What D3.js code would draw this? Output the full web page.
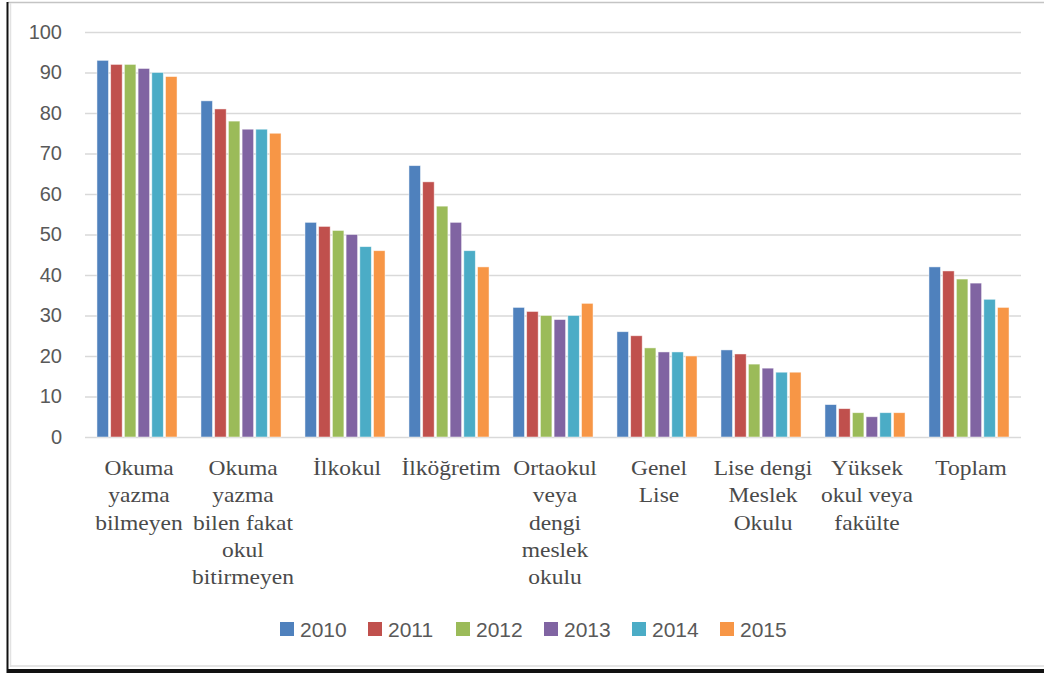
<!DOCTYPE html>
<html>
<head>
<meta charset="utf-8">
<script src="https://cdn.jsdelivr.net/npm/d3@7"></script>
<style>
    body { margin: 0; background: #fff; }
</style>
</head>
<body>
<div id="chart"></div>
<script>
// Data
let categories = [
    ["Okuma", "yazma", "bilmeyen"],
    ["Okuma", "yazma", "bilen fakat", "okul", "bitirmeyen"],
    ["İlkokul"],
    ["İlköğretim"],
    ["Ortaokul", "veya", "dengi", "meslek", "okulu"],
    ["Genel", "Lise"],
    ["Lise dengi", "Meslek", "Okulu"],
    ["Yüksek", "okul veya", "fakülte"],
    ["Toplam"]
];
let years = ["2010", "2011", "2012", "2013", "2014", "2015"];
let v2010 = [93, 83, 53, 67, 32, 26, 21.5, 8, 42];
let v2011 = [92, 81, 52, 63, 31, 25, 20.5, 7, 41];
let v2012 = [92, 78, 51, 57, 30, 22, 18, 6, 39];
let v2013 = [91, 76, 50, 53, 29, 21, 17, 5, 38];
let v2014 = [90, 76, 47, 46, 30, 21, 16, 6, 34];
let v2015 = [89, 75, 46, 42, 33, 20, 16, 6, 32];
let yTicks = [0, 10, 20, 30, 40, 50, 60, 70, 80, 90, 100];
let colors = ["#4f81bd", "#c0504d", "#9bbb59", "#8064a2", "#4bacc6", "#f79646"];

let series = [v2010, v2011, v2012, v2013, v2014, v2015];

let W = 1044, H = 673;

let svg = d3.select("#chart")
    .append("svg")
    .attr("width", W)
    .attr("height", H);

/* Frame */
svg.append("line").attr("x1", 8).attr("y1", 2.5).attr("x2", W).attr("y2", 2.5)
    .attr("stroke", "#c4c4c4").attr("stroke-width", 1.5);
svg.append("line").attr("x1", 10.5).attr("y1", 3).attr("x2", 10.5).attr("y2", 667)
    .attr("stroke", "#e2e2e2").attr("stroke-width", 1.5);
svg.append("line").attr("x1", 10).attr("y1", 666).attr("x2", W).attr("y2", 666)
    .attr("stroke", "#dcdcdc").attr("stroke-width", 1.5);
svg.append("line").attr("x1", 7.5).attr("y1", 2).attr("x2", 7.5).attr("y2", H)
    .attr("stroke", "#111").attr("stroke-width", 2);
svg.append("rect").attr("x", 7).attr("y", 669).attr("width", W - 7).attr("height", 4)
    .attr("fill", "#111");

/* Scales */
let idx = categories.map((d, i) => i);

let xScale = d3.scaleBand()
    .domain(idx)
    .range([85, 1021])
    .paddingInner(0.23)
    .paddingOuter(0.115);

let xInner = d3.scaleBand()
    .domain(years)
    .range([0, xScale.bandwidth()])
    .paddingInner(0.16);

let yScale = d3.scaleLinear()
    .domain([0, 100])
    .range([437, 32]);

/* Gridlines */
let yAxis = d3.axisLeft(yScale)
    .tickValues(yTicks)
    .tickSize(-(1021 - 85))
    .tickPadding(23);

let gy = svg.append("g")
    .attr("transform", "translate(85, 0)")
    .call(yAxis);
gy.select(".domain").remove();
gy.selectAll(".tick line")
    .attr("stroke", "#d9d9d9")
    .attr("stroke-width", 1.5);
gy.selectAll(".tick text")
    .attr("fill", "#595959")
    .attr("font-family", "'Liberation Sans', Arial, sans-serif")
    .attr("font-size", "20px");

/* Bars */
let groups = svg.selectAll(".grp")
    .data(idx)
    .enter()
    .append("g")
    .attr("class", "grp")
    .attr("transform", d => `translate(${xScale(d)}, 0)`);

groups.selectAll("rect")
    .data(i => series.map((s, j) => ({ year: years[j], value: s[i], color: colors[j] })))
    .enter()
    .append("rect")
    .attr("x", d => xInner(d.year))
    .attr("y", d => yScale(d.value))
    .attr("width", xInner.bandwidth())
    .attr("height", d => yScale(0) - yScale(d.value))
    .attr("fill", d => d.color)
    .attr("stroke", "#ffffff")
    .attr("stroke-opacity", 0.6)
    .attr("stroke-width", 0.8);

/* Category labels (slightly stretched serif, like the original) */
let labels = svg.selectAll(".cat")
    .data(idx)
    .enter()
    .append("text")
    .attr("class", "cat")
    .attr("transform", i => `translate(${xScale(i) + xScale.bandwidth() / 2 + 2}, 0) scale(1.12, 1)`)
    .attr("text-anchor", "middle")
    .attr("font-family", "'Liberation Serif', 'Times New Roman', serif")
    .attr("font-size", "21px")
    .attr("fill", "#4a4a4a");

labels.each(function (i) {
    d3.select(this).selectAll("tspan")
        .data(categories[i])
        .enter()
        .append("tspan")
        .attr("x", 0)
        .attr("y", (d, k) => 475 + k * 27.3)
        .text(d => d);
});

/* Legend */
let legend = svg.append("g")
    .attr("transform", "translate(280, 629)");

let item = legend.selectAll(".leg")
    .data(years)
    .enter()
    .append("g")
    .attr("class", "leg")
    .attr("transform", (d, i) => `translate(${i * 88}, 0)`);

item.append("rect")
    .attr("x", 0)
    .attr("y", -7)
    .attr("width", 14)
    .attr("height", 14)
    .attr("fill", (d, i) => colors[i]);

item.append("text")
    .attr("x", 20)
    .attr("y", 8)
    .attr("fill", "#595959")
    .attr("font-family", "'Liberation Sans', Arial, sans-serif")
    .attr("font-size", "21px")
    .text(d => d);
</script>
</body>
</html>
